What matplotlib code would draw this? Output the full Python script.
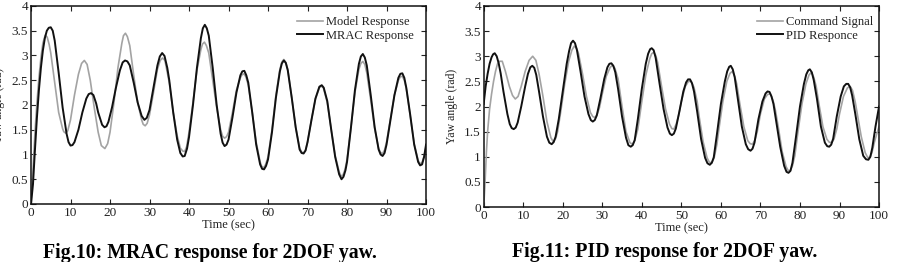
import matplotlib
matplotlib.use('Agg')
import matplotlib.pyplot as plt

plt.rcParams['font.family'] = ['Liberation Serif', 'DejaVu Serif']

# Fig.10 data: model reference vs MRAC response
t_model = [0, 0.5, 1, 1.5, 2, 2.5, 3, 3.6, 4.1, 4.6, 5, 6, 7, 8, 8.3, 8.8, 9.3, 10, 11, 12,
           12.8, 13.5, 14.2, 15, 16, 17, 17.8, 18.7, 19.4, 20, 21, 22, 23, 23.4, 23.9, 24.4, 25, 26, 27, 28,
           28.4, 28.9, 29.4, 30, 31, 32, 32.7, 33.3, 33.9, 35, 36, 37, 37.8, 38.4, 38.9, 39.4, 40, 41, 42, 43,
           43.4, 43.9, 44.4, 45, 46, 47, 48, 48.5, 49, 49.5, 50, 51, 52, 53, 53.4, 53.9, 54.4, 55, 56, 57,
           58, 58.4, 58.9, 59.4, 60, 61, 62, 63, 63.5, 64, 64.5, 65, 66, 67, 68, 68.5, 69, 69.5, 70, 71,
           72, 73, 73.5, 74, 75, 76, 77, 78, 78.5, 79, 79.5, 80, 81, 82, 83, 83.5, 84, 84.5, 85, 86,
           87, 88, 88.5, 89, 89.5, 90, 91, 92, 93, 93.5, 94, 94.5, 95, 96, 97, 98, 98.5, 99, 99.5, 100]
y_model = [0, 0.7, 1.45, 2.05, 2.55, 2.95, 3.25, 3.41, 3.37, 3.22, 3.05, 2.45, 1.85, 1.52, 1.46, 1.43, 1.48, 1.7, 2.2, 2.62,
           2.84, 2.9, 2.82, 2.5, 1.95, 1.45, 1.18, 1.12, 1.22, 1.45, 2.05, 2.75, 3.25, 3.4, 3.45, 3.38, 3.2, 2.6, 2.05, 1.7,
           1.61, 1.58, 1.63, 1.8, 2.25, 2.72, 2.9, 2.95, 2.9, 2.45, 1.85, 1.38, 1.13, 1.07, 1.06, 1.16, 1.45, 2.05, 2.7, 3.12,
           3.23, 3.27, 3.2, 3.05, 2.5, 1.95, 1.5, 1.37, 1.33, 1.36, 1.45, 1.85, 2.3, 2.55, 2.61, 2.63, 2.57, 2.4, 1.85, 1.25,
           0.85, 0.76, 0.73, 0.8, 0.95, 1.5, 2.2, 2.72, 2.87, 2.92, 2.86, 2.72, 2.15, 1.55, 1.13, 1.05, 1.03, 1.09, 1.25, 1.7,
           2.12, 2.35, 2.38, 2.35, 2.05, 1.5, 0.98, 0.65, 0.56, 0.59, 0.7, 0.9, 1.55, 2.25, 2.72, 2.84, 2.88, 2.82, 2.65, 2.1,
           1.52, 1.12, 1.04, 1.02, 1.09, 1.25, 1.72, 2.2, 2.5, 2.57, 2.58, 2.5, 2.33, 1.78, 1.22, 0.88, 0.81, 0.84, 0.96, 1.15]

t_mrac = [0, 0.5, 1, 1.5, 2, 2.5, 3, 3.5, 4, 4.5, 5, 5.5, 6, 7, 8, 9, 9.5, 10, 10.5, 11,
          12, 13, 14, 14.6, 15.2, 15.8, 16.5, 17, 18, 18.6, 19.1, 19.6, 20.5, 21.5, 22.5, 23.2, 23.8, 24.4, 25, 26,
          27, 28, 28.7, 29.3, 30, 31, 32, 32.6, 33.2, 33.8, 34.5, 35, 36, 37, 37.8, 38.4, 38.9, 39.5, 40, 41,
          42, 43, 43.5, 44, 44.5, 45, 46, 47, 48, 48.5, 49, 49.5, 50, 51, 52, 53, 53.5, 54, 54.5, 55,
          56, 57, 58, 58.5, 59, 59.5, 60, 61, 62, 63, 63.5, 64, 64.5, 65, 66, 67, 68, 68.5, 69, 69.5,
          70, 71, 72, 73, 73.6, 74.1, 75, 76, 77, 78, 78.6, 79.1, 79.6, 80, 81, 82, 83, 83.5, 84, 84.5,
          85, 86, 87, 88, 88.5, 89, 89.5, 90, 91, 92, 93, 93.5, 94, 94.5, 95, 96, 97, 98, 98.5, 99,
          99.5, 100]
y_mrac = [0, 0.4, 1.1, 1.75, 2.3, 2.75, 3.1, 3.35, 3.5, 3.56, 3.57, 3.5, 3.3, 2.65, 1.95, 1.42, 1.25, 1.18, 1.19, 1.25,
          1.5, 1.85, 2.13, 2.22, 2.24, 2.2, 2.03, 1.85, 1.6, 1.55, 1.57, 1.66, 1.95, 2.35, 2.7, 2.86, 2.9, 2.88, 2.8, 2.45,
          2.05, 1.78, 1.7, 1.74, 1.9, 2.35, 2.8, 2.98, 3.05, 2.99, 2.75, 2.5, 1.85, 1.3, 1.03, 0.96, 0.97, 1.12, 1.35, 2.0,
          2.75, 3.35, 3.55, 3.62, 3.55, 3.4, 2.75, 2.0, 1.42, 1.24, 1.17, 1.2, 1.3, 1.75, 2.25, 2.6, 2.68, 2.69, 2.6, 2.45,
          1.85, 1.2, 0.8, 0.71, 0.7, 0.77, 0.9, 1.45, 2.15, 2.68, 2.84, 2.9, 2.85, 2.7, 2.15, 1.55, 1.1, 1.03, 1.02, 1.08,
          1.25, 1.7, 2.13, 2.37, 2.4, 2.35, 2.08, 1.5, 0.95, 0.6, 0.5, 0.55, 0.68, 0.85, 1.55, 2.3, 2.83, 2.98, 3.03, 2.96,
          2.8, 2.2, 1.55, 1.1, 1.0, 0.97, 1.03, 1.2, 1.7, 2.2, 2.55, 2.63, 2.64, 2.55, 2.35, 1.8, 1.2, 0.85, 0.78, 0.8,
          0.95, 1.2]

# Fig.11 data: command signal vs PID response
t_cmd = [0, 0.3, 0.7, 1, 1.5, 2, 2.5, 3, 3.5, 4, 4.7, 5.5, 6.5, 7.3, 8, 8.7, 9.5, 10.5, 11.5, 12.4,
         13.2, 14, 15, 16, 17, 17.6, 18.2, 18.7, 19.5, 20.5, 21.5, 22.3, 22.9, 23.5, 24, 25, 26, 27, 27.6, 28.1,
         28.7, 29.3, 30, 31, 32, 32.6, 33.2, 34, 35, 36, 37, 37.6, 38.2, 39, 40, 41, 42, 42.5, 43, 43.5,
         44, 45, 46, 47, 47.6, 48.1, 48.7, 49.3, 50, 51, 51.8, 52.5, 53.2, 54, 54.5, 55.5, 56.5, 57.1, 57.7, 58.3,
         59, 59.5, 60.5, 61.5, 62.3, 62.9, 63.5, 64, 64.8, 65.8, 66.8, 67.4, 68, 68.6, 69.2, 70, 71, 71.8, 72.5, 73.2,
         73.8, 74.5, 75.5, 76.5, 77, 77.5, 78.1, 78.7, 79.5, 80.5, 81.5, 82.3, 82.9, 83.5, 84.1, 84.8, 85.8, 86.8, 87.4, 88,
         88.6, 89.3, 90, 91, 92, 92.7, 93.3, 94, 94.5, 95.5, 96.5, 97.1, 97.6, 98.2, 98.8, 99.4, 100]
y_cmd = [0, 0.4, 1.1, 1.5, 1.95, 2.25, 2.5, 2.7, 2.85, 2.9, 2.9, 2.7, 2.4, 2.22, 2.15, 2.2, 2.4, 2.7, 2.92, 3.0,
         2.92, 2.65, 2.2, 1.7, 1.38, 1.3, 1.36, 1.5, 1.9, 2.45, 2.9, 3.12, 3.2, 3.16, 3.05, 2.65, 2.2, 1.88, 1.8, 1.78,
         1.84, 1.98, 2.25, 2.6, 2.78, 2.82, 2.76, 2.55, 2.0, 1.5, 1.28, 1.25, 1.32, 1.55, 2.1, 2.62, 2.95, 3.05, 3.08, 3.02,
         2.88, 2.4, 1.95, 1.65, 1.56, 1.55, 1.65, 1.82, 2.1, 2.4, 2.5, 2.5, 2.38, 2.1, 1.8, 1.3, 0.98, 0.89, 0.88, 0.98,
         1.25, 1.55, 2.1, 2.5, 2.66, 2.7, 2.6, 2.45, 2.05, 1.6, 1.32, 1.26, 1.25, 1.33, 1.5, 1.85, 2.15, 2.24, 2.25, 2.12,
         1.92, 1.6, 1.1, 0.8, 0.73, 0.72, 0.82, 1.02, 1.5, 2.05, 2.45, 2.63, 2.68, 2.58, 2.4, 2.05, 1.6, 1.35, 1.29, 1.28,
         1.35, 1.55, 1.85, 2.2, 2.37, 2.4, 2.32, 2.08, 1.85, 1.4, 1.08, 0.99, 0.98, 1.08, 1.28, 1.45, 1.6]

t_pid = [0, 0.5, 1, 1.5, 2, 2.4, 2.8, 3.3, 3.8, 4.3, 5, 6, 6.6, 7.1, 7.6, 8.1, 8.6, 9.5, 10.5, 11.2,
         11.8, 12.3, 12.8, 13.3, 14, 15, 16, 16.6, 17.2, 17.7, 18.2, 19, 20, 21, 21.6, 22.1, 22.6, 23.1, 23.6, 24.5,
         25.5, 26.5, 27.1, 27.6, 28.1, 28.6, 29.5, 30.5, 31.3, 31.8, 32.3, 32.8, 33.3, 34, 35, 36, 36.6, 37.2, 37.7, 38.2,
         39, 40, 41, 41.6, 42.1, 42.5, 43, 43.5, 44.5, 45.5, 46.5, 47.1, 47.6, 48.1, 48.6, 49.5, 50.5, 51.2, 51.7, 52.2,
         52.7, 53.2, 54, 55, 56, 56.6, 57.2, 57.7, 58.2, 59, 60, 61, 61.6, 62.1, 62.5, 63, 63.5, 64.3, 65.3, 66.3,
         66.9, 67.5, 68, 68.5, 69.5, 70.5, 71.3, 71.8, 72.3, 72.8, 73.3, 74, 75, 76, 76.6, 77.1, 77.6, 78.1, 79, 80,
         81, 81.6, 82.1, 82.5, 83, 83.5, 84.3, 85.3, 86.3, 86.9, 87.4, 87.9, 88.4, 89.3, 90.3, 91.1, 91.7, 92.2, 92.7, 93.2,
         94, 95, 96, 96.7, 97.3, 97.8, 98.3, 99.1, 100]
y_pid = [2.05, 2.4, 2.65, 2.85, 2.98, 3.04, 3.06, 3.0, 2.86, 2.66, 2.3, 1.85, 1.65, 1.57, 1.55, 1.58, 1.68, 2.0, 2.4, 2.65,
         2.78, 2.81, 2.77, 2.63, 2.3, 1.8, 1.4, 1.28, 1.25, 1.29, 1.4, 1.75, 2.3, 2.85, 3.1, 3.26, 3.31, 3.26, 3.12, 2.7,
         2.2, 1.85, 1.73, 1.7, 1.73, 1.82, 2.15, 2.55, 2.78, 2.85, 2.86, 2.81, 2.68, 2.35, 1.8, 1.38, 1.23, 1.2, 1.23, 1.33,
         1.75, 2.35, 2.85, 3.05, 3.14, 3.16, 3.12, 2.97, 2.45, 1.95, 1.58, 1.46, 1.43, 1.46, 1.56, 1.9, 2.3, 2.48, 2.54, 2.54,
         2.46, 2.3, 1.9, 1.35, 0.98, 0.87, 0.84, 0.88, 0.99, 1.45, 2.05, 2.5, 2.7, 2.79, 2.81, 2.74, 2.58, 2.15, 1.6, 1.25,
         1.15, 1.12, 1.16, 1.28, 1.75, 2.1, 2.26, 2.3, 2.29, 2.2, 2.05, 1.7, 1.2, 0.82, 0.7, 0.68, 0.72, 0.88, 1.4, 2.0,
         2.45, 2.64, 2.72, 2.74, 2.68, 2.52, 2.15, 1.6, 1.28, 1.21, 1.2, 1.24, 1.36, 1.8, 2.2, 2.4, 2.45, 2.45, 2.38, 2.22,
         1.85, 1.35, 1.02, 0.95, 0.94, 1.0, 1.18, 1.6, 2.0]

x_ticks = [0, 10, 20, 30, 40, 50, 60, 70, 80, 90, 100]
y_ticks = [0, 0.5, 1, 1.5, 2, 2.5, 3, 3.5, 4]
y_tick_labels = ['0', '0.5', '1', '1.5', '2', '2.5', '3', '3.5', '4']

fig = plt.figure(figsize=(8.99, 2.62), dpi=100)
ax1 = fig.add_axes([0.0345, 0.2214, 0.4394, 0.7557])
ax2 = fig.add_axes([0.538, 0.2099, 0.4398, 0.7672])

panels = [
    (ax1, t_model, y_model, 'Model Response', t_mrac, y_mrac, 'MRAC Response', (0.981, 0.973)),
    (ax2, t_cmd, y_cmd, 'Command Signal', t_pid, y_pid, 'PID Responce', (0.997, 0.975)),
]

for ax, tg, yg, lg, tb, yb, lb, anchor in panels:
    ax.plot(tg, yg, color='#a3a3a3', lw=1.2, label=lg)
    ax.plot(tb, yb, color='#111111', lw=1.4, label=lb)
    ax.set_xlim(0, 100)
    ax.set_ylim(0, 4)
    ax.set_xticks(x_ticks)
    ax.set_xticklabels([str(v) for v in x_ticks])
    ax.set_yticks(y_ticks)
    ax.set_yticklabels(y_tick_labels)
    ax.tick_params(direction='in', top=True, right=True, length=3.5, width=0.8,
                   labelsize=9.5, pad=2, colors='#222222')
    for s in ax.spines.values():
        s.set_linewidth(1.1)
        s.set_color('#111111')
    ax.set_xlabel('Time (sec)', fontsize=9, labelpad=0.5, color='#222222')
    ax.set_ylabel('Yaw angle (rad)', fontsize=8.5, color='#222222')
    ax.yaxis.set_label_coords(-0.066, 0.5)
    leg = ax.legend(loc='upper right', bbox_to_anchor=anchor, frameon=False, fontsize=9,
                    handlelength=2.1, handletextpad=0.2, labelspacing=0.12, borderaxespad=0)
    for txt in leg.get_texts():
        txt.set_color('#222222')

fig.text(0.2336, 0.034, 'Fig.10: MRAC response for 2DOF yaw.', ha='center', va='center',
         fontsize=14.3, fontweight='bold')
fig.text(0.7397, 0.04, 'Fig.11: PID response for 2DOF yaw.', ha='center', va='center',
         fontsize=14.3, fontweight='bold')

fig.savefig('out.png', dpi=100)
